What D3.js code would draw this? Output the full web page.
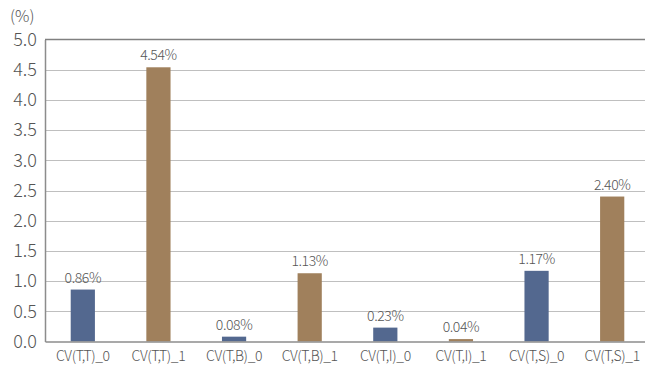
<!DOCTYPE html>
<html>
<head>
<meta charset="utf-8">
<script src="https://cdn.jsdelivr.net/npm/d3@7"></script>
<style>
  html, body { margin: 0; padding: 0; background: #fff; }
  svg { display: block; }
  text { font-family: "Noto Sans CJK KR", "Noto Sans", sans-serif; fill: #555; }
</style>
</head>
<body>
<svg id="chart" width="645" height="370"></svg>
<script>
// Coefficient of variation per case
const categories = ["CV(T,T)_0", "CV(T,T)_1", "CV(T,B)_0", "CV(T,B)_1", "CV(T,I)_0", "CV(T,I)_1", "CV(T,S)_0", "CV(T,S)_1"];
const values = [0.86, 4.54, 0.08, 1.13, 0.23, 0.04, 1.17, 2.40];
const groups = [0, 1, 0, 1, 0, 1, 0, 1];
const yTicks = [0, 0.5, 1.0, 1.5, 2.0, 2.5, 3.0, 3.5, 4.0, 4.5, 5.0];
const colors = ["#53688f", "#a0805c"];

const svg = d3.select("#chart");
const margin = { left: 45, right: -5, top: 39.5, bottom: 28.5 };
const W = 645, H = 370;

const x = d3.scaleBand()
  .domain(categories)
  .range([margin.left, W - margin.right])
  .paddingInner(0.68)
  .paddingOuter(0.34);

const y = d3.scaleLinear()
  .domain([0, 5])
  .range([H - margin.bottom, margin.top]);

// Horizontal gridlines
svg.append("g")
  .selectAll("line")
  .data(yTicks.filter(t => t > 0 && t < 5))
  .join("line")
  .attr("x1", margin.left).attr("x2", W)
  .attr("y1", d => Math.round(y(d)) + 0.5).attr("y2", d => Math.round(y(d)) + 0.5)
  .attr("stroke", "#bfbfbf").attr("stroke-width", 1);

// Top border
svg.append("line")
  .attr("x1", margin.left).attr("x2", W)
  .attr("y1", y(5)).attr("y2", y(5))
  .attr("stroke", "#808080").attr("stroke-width", 1.5);

// Bars
svg.append("g")
  .selectAll("rect")
  .data(categories)
  .join("rect")
  .attr("x", d => x(d))
  .attr("width", x.bandwidth())
  .attr("y", (d, i) => y(values[i]))
  .attr("height", (d, i) => y(0) - y(values[i]))
  .attr("fill", (d, i) => colors[groups[i]]);

// Value labels
svg.append("g")
  .selectAll("text")
  .data(categories)
  .join("text")
  .attr("x", d => x(d) + x.bandwidth() / 2)
  .attr("y", (d, i) => y(values[i]) - 7)
  .attr("text-anchor", "middle")
  .attr("font-size", 14)
  .attr("font-weight", 300)
  .attr("letter-spacing", -0.4)
  .text((d, i) => values[i].toFixed(2) + "%");

// Left axis
const yAxis = d3.axisLeft(y).tickValues(yTicks).tickSize(0).tickPadding(8).tickFormat(d3.format(".1f"));
const gy = svg.append("g").attr("transform", `translate(${margin.left},0)`).call(yAxis);
gy.select(".domain").attr("stroke", "#8c8c8c").attr("stroke-width", 1.5);
gy.selectAll("text").attr("font-size", 18).attr("font-weight", 300).attr("fill", "#555").attr("font-family", "\"Noto Sans CJK KR\", sans-serif");

// Bottom axis
const xAxis = d3.axisBottom(x).tickSize(0).tickPadding(10);
const gx = svg.append("g").attr("transform", `translate(0,${y(0)})`).call(xAxis);
gx.select(".domain").attr("stroke", "#8c8c8c").attr("stroke-width", 1.5);
gx.selectAll("text").attr("font-size", 14).attr("font-weight", 300).attr("letter-spacing", -0.4).attr("fill", "#555").attr("font-family", "\"Noto Sans CJK KR\", sans-serif");

// Unit label
svg.append("text")
  .attr("x", 10).attr("y", 22)
  .attr("font-size", 16)
  .attr("font-weight", 300)
  .text("(%)");
</script>
</body>
</html>
